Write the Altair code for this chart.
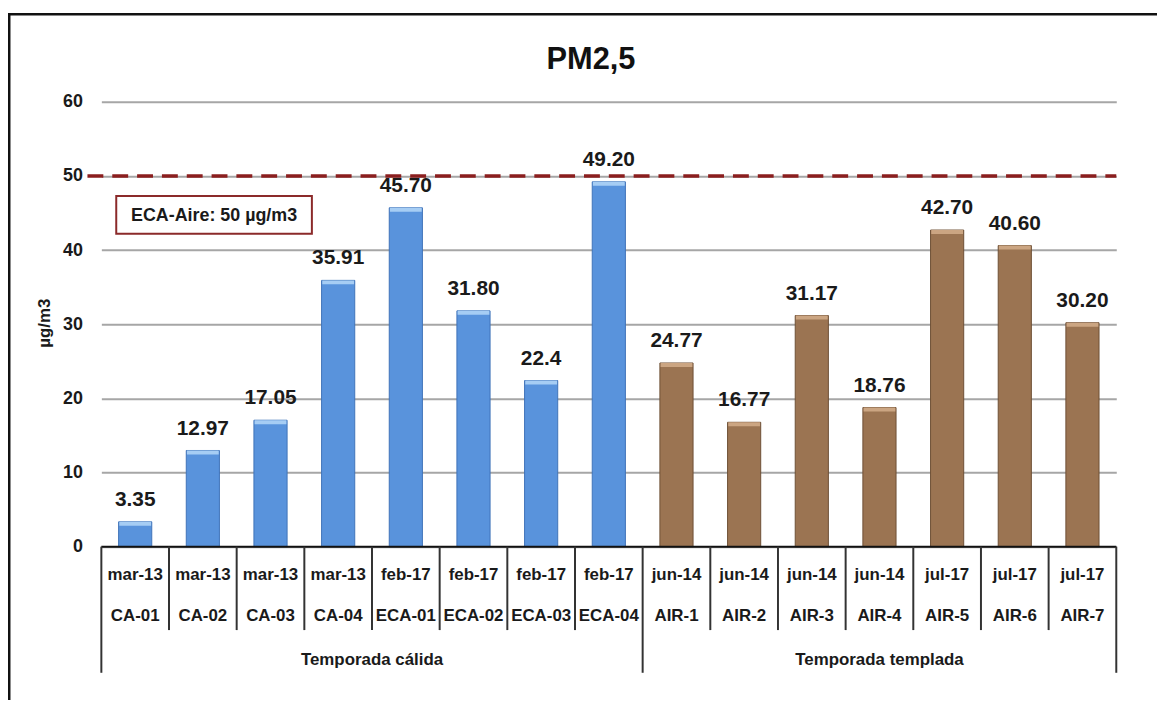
import altair as alt
import pandas as pd

# ---------------- data ----------------
months = ["mar-13", "mar-13", "mar-13", "mar-13", "feb-17", "feb-17", "feb-17", "feb-17",
          "jun-14", "jun-14", "jun-14", "jun-14", "jul-17", "jul-17", "jul-17"]
codes = ["CA-01", "CA-02", "CA-03", "CA-04", "ECA-01", "ECA-02", "ECA-03", "ECA-04",
         "AIR-1", "AIR-2", "AIR-3", "AIR-4", "AIR-5", "AIR-6", "AIR-7"]
values = [3.35, 12.97, 17.05, 35.91, 45.70, 31.80, 22.4, 49.20,
          24.77, 16.77, 31.17, 18.76, 42.70, 40.60, 30.20]
value_labels = ["3.35", "12.97", "17.05", "35.91", "45.70", "31.80", "22.4", "49.20",
                "24.77", "16.77", "31.17", "18.76", "42.70", "40.60", "30.20"]
seasons = ["Temporada cálida"] * 8 + ["Temporada templada"] * 7
season_names = ["Temporada cálida", "Temporada templada"]
season_colors = ["#5993DC", "#9B7452"]
season_edges = ["#3F73B8", "#6E5035"]
season_tops = ["#A6CDF4", "#CBA582"]
y_ticks = [0, 10, 20, 30, 40, 50, 60]
limit_value = 50
limit_label = "ECA-Aire: 50 µg/m3"
title_text = "PM2,5"
y_title = "µg/m3"

FONT = "Liberation Sans Narrow, Arial Narrow, Liberation Sans, sans-serif"
W, H = 1022, 448

df = pd.DataFrame({"code": codes, "month": months, "value": values,
                   "label": value_labels, "season": seasons})
df["group_start"] = [i == 0 or seasons[i] != seasons[i - 1] for i in range(len(seasons))]

# group middles in band units
starts = [seasons.index(s) for s in season_names]
counts = [seasons.count(s) for s in season_names]
gdf = pd.DataFrame({"season": season_names,
                    "mid": [st + c / 2 for st, c in zip(starts, counts)]})

xs = alt.Scale(domain=codes, paddingInner=0, paddingOuter=0)
ys = alt.Scale(domain=[0, 60], nice=False)

base = alt.Chart(df)

bars = base.mark_bar(width=alt.RelativeBandSize(0.49), strokeWidth=1).encode(
    x=alt.X("code:N", sort=codes, scale=xs, axis=None),
    y=alt.Y("value:Q", scale=ys, axis=alt.Axis(
        values=y_ticks, grid=True, gridColor="#A6A6A6", gridWidth=2,
        domain=False, ticks=False, labelFont=FONT, labelFontSize=18,
        labelFontWeight="bold", labelColor="#1a1a1a", labelPadding=19, title=None)),
    color=alt.Color("season:N", scale=alt.Scale(domain=season_names, range=season_colors), legend=None),
    stroke=alt.Stroke("season:N", scale=alt.Scale(domain=season_names, range=season_edges), legend=None),
)

tops = [
    base.transform_filter(alt.datum.season == s).mark_tick(
        thickness=4, size=32, color=season_tops[i], yOffset=2, opacity=1).encode(
        x=alt.X("code:N", sort=codes, scale=xs, axis=None),
        y=alt.Y("value:Q", scale=ys))
    for i, s in enumerate(season_names)
]

labels = base.mark_text(dy=-22, font=FONT, fontSize=21, fontWeight="bold", color="#1a1a1a").encode(
    x=alt.X("code:N", sort=codes, scale=xs, axis=None),
    y=alt.Y("value:Q", scale=ys),
    text="label:N",
)

limit_rule = alt.Chart(pd.DataFrame({"v": [limit_value]})).mark_rule(
    color="#8B1E1E", strokeWidth=3.5, strokeDash=[16, 9]).encode(
    y=alt.Y("v:Q", scale=ys), x=alt.value(-14), x2=alt.value(W))

box = alt.Chart(pd.DataFrame({"t": [limit_label]})).mark_rect(
    fill="white", stroke="#8B2A2A", strokeWidth=2).encode(
    x=alt.value(15), x2=alt.value(212), y=alt.value(95), y2=alt.value(133))
box_text = alt.Chart(pd.DataFrame({"t": [limit_label]})).mark_text(
    font=FONT, fontSize=18, fontWeight="bold", color="#1a1a1a").encode(
    x=alt.value(113.5), y=alt.value(115), text="t:N")

axis_line = alt.Chart(pd.DataFrame({"a": [0]})).mark_rule(color="#111111", strokeWidth=2).encode(
    x=alt.value(0), x2=alt.value(W), y=alt.value(H))

short_sep = base.transform_filter(alt.datum.group_start == False).mark_rule(
    color="#333333", strokeWidth=2).encode(
    x=alt.X("code:N", sort=codes, scale=xs, axis=None, bandPosition=0),
    y=alt.value(H), y2=alt.value(532))
long_sep = base.transform_filter(alt.datum.group_start == True).mark_rule(
    color="#333333", strokeWidth=2).encode(
    x=alt.X("code:N", sort=codes, scale=xs, axis=None, bandPosition=0),
    y=alt.value(H), y2=alt.value(575))
end_sep = alt.Chart(pd.DataFrame({"a": [0]})).mark_rule(color="#333333", strokeWidth=2).encode(
    x=alt.value(W), y=alt.value(H), y2=alt.value(575))

month_text = base.mark_text(font=FONT, fontSize=17, fontWeight="bold", color="#1a1a1a").encode(
    x=alt.X("code:N", sort=codes, scale=xs, axis=None),
    y=alt.value(477), text="month:N")
code_text = base.mark_text(font=FONT, fontSize=17, fontWeight="bold", color="#1a1a1a").encode(
    x=alt.X("code:N", sort=codes, scale=xs, axis=None),
    y=alt.value(518), text="code:N")

title = alt.Chart(pd.DataFrame({"t": [title_text]})).mark_text(
    font=FONT, fontSize=31, fontWeight="bold", color="#111111", baseline="alphabetic").encode(
    x=alt.value(493), y=alt.value(-33), text="t:N")
ytitle = alt.Chart(pd.DataFrame({"t": [y_title]})).mark_text(
    font=FONT, fontSize=17, fontWeight="bold", color="#1a1a1a", angle=270).encode(
    x=alt.value(-57), y=alt.value(223), text="t:N")

border_left = alt.Chart(pd.DataFrame({"a": [0]})).mark_rule(color="#111111", strokeWidth=3).encode(
    x=alt.value(-93), y=alt.value(-89), y2=alt.value(H + 170))
border_top = alt.Chart(pd.DataFrame({"a": [0]})).mark_rule(color="#111111", strokeWidth=2.5).encode(
    x=alt.value(-94), x2=alt.value(W + 45), y=alt.value(-88))

inner = alt.layer(limit_rule, bars, *tops, labels, box, box_text, axis_line,
                  short_sep, long_sep, end_sep, month_text, code_text,
                  title, ytitle, border_left, border_top)

group_text = alt.Chart(gdf).mark_text(font=FONT, fontSize=17, fontWeight="bold", color="#1a1a1a").encode(
    x=alt.X("mid:Q", scale=alt.Scale(domain=[0, len(codes)], nice=False, zero=False), axis=None),
    y=alt.value(562), text="season:N")

chart = alt.layer(inner, group_text).resolve_scale(x="independent").properties(
    width=W, height=H,
    autosize=alt.AutoSizeParams(type="none"),
    padding={"left": 94, "top": 92, "right": 41, "bottom": 152},
    background="white",
).configure_view(stroke=None)

chart.save("out.html", embed_options={"renderer": "svg", "actions": False})
